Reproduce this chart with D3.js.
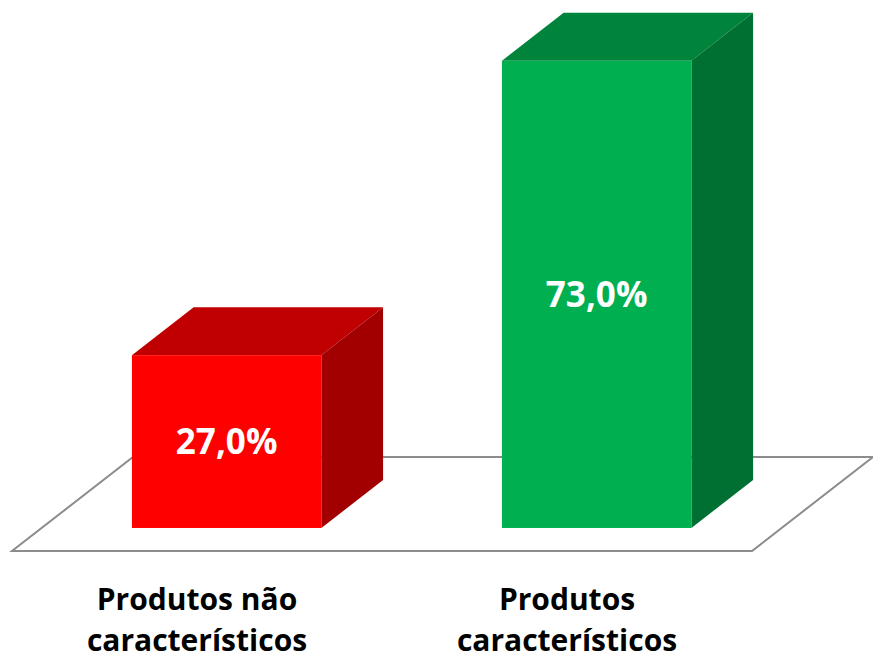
<!doctype html>
<html>
<head>
<meta charset="utf-8">
<script src="https://d3js.org/d3.v7.min.js"></script>
<style>
  body { margin: 0; background: #fff; }
</style>
</head>
<body>
<svg width="873" height="660"></svg>
<script>
// dados do gráfico
var categories = ["Produtos não característicos", "Produtos característicos"];
var categoryLines = [["Produtos não", "característicos"], ["Produtos", "característicos"]];
var values = [27.0, 73.0];
var frontColors = ["#FF0000", "#00B050"];
var topColors = ["#C00000", "#00843B"];
var sideColors = ["#A20000", "#007032"];

var svg = d3.select("svg");

// chão em perspectiva
var floorY = 551,
    depthX = 121,
    depthY = -94,
    depthFront = 0.245,
    depthBack = 0.755;

var x = d3.scaleBand().domain(categories).range([12, 752]);
var h = d3.scaleLinear().domain([0, 100]).range([0, 640]);

var barW = x.bandwidth() * 0.512;

svg.append("path")
   .attr("d", "M" + x.range()[0] + "," + floorY +
              "L" + x.range()[1] + "," + floorY +
              "L" + (x.range()[1] + depthX) + "," + (floorY + depthY) +
              "L" + (x.range()[0] + depthX) + "," + (floorY + depthY) + "Z")
   .attr("fill", "#fff")
   .attr("stroke", "#8c8c8c")
   .attr("stroke-width", 2);

var fmt = d3.format(".1f");

var bars = svg.selectAll(".bar")
    .data(categories)
    .enter()
    .append("g")
    .attr("class", "bar");

bars.each(function(c, i) {
    var g = d3.select(this);
    var x0 = x(c) + (x.bandwidth() - barW) / 2 + depthFront * depthX,
        y0 = floorY + depthFront * depthY,
        x1 = x0 + barW,
        yt = y0 - h(values[i]),
        ox = (depthBack - depthFront) * depthX,
        oy = (depthBack - depthFront) * depthY;

    // topo
    g.append("path")
     .attr("d", "M" + x0 + "," + yt + "L" + (x0 + ox) + "," + (yt + oy) +
                "L" + (x1 + ox) + "," + (yt + oy) + "L" + x1 + "," + yt + "Z")
     .attr("fill", topColors[i]);
    // lateral
    g.append("path")
     .attr("d", "M" + x1 + "," + yt + "L" + (x1 + ox) + "," + (yt + oy) +
                "L" + (x1 + ox) + "," + (y0 + oy) + "L" + x1 + "," + y0 + "Z")
     .attr("fill", sideColors[i]);
    // frente
    g.append("rect")
     .attr("x", x0)
     .attr("y", yt)
     .attr("width", barW)
     .attr("height", h(values[i]))
     .attr("fill", frontColors[i]);

    g.append("text")
     .attr("x", x0 + barW / 2)
     .attr("y", (yt + y0) / 2)
     .attr("dy", "0.36em")
     .attr("text-anchor", "middle")
     .attr("font-family", "'Open Sans', sans-serif")
     .attr("font-weight", "bold")
     .attr("font-size", "35px")
     .attr("fill", "#fff")
     .text(fmt(values[i]).replace(".", ",") + "%");
});

// rótulos das categorias
svg.selectAll(".cat")
   .data(categories)
   .enter()
   .append("text")
   .attr("class", "cat")
   .attr("text-anchor", "middle")
   .attr("font-family", "'Open Sans', sans-serif")
   .attr("font-weight", "bold")
   .attr("font-size", "30px")
   .attr("fill", "#000")
   .each(function(c, i) {
       d3.select(this).selectAll("tspan")
         .data(categoryLines[i])
         .enter()
         .append("tspan")
         .attr("x", x(c) + x.bandwidth() / 2)
         .attr("y", function(d, j) { return 610 + j * 41; })
         .text(function(d) { return d; });
   });
</script>
</body>
</html>
